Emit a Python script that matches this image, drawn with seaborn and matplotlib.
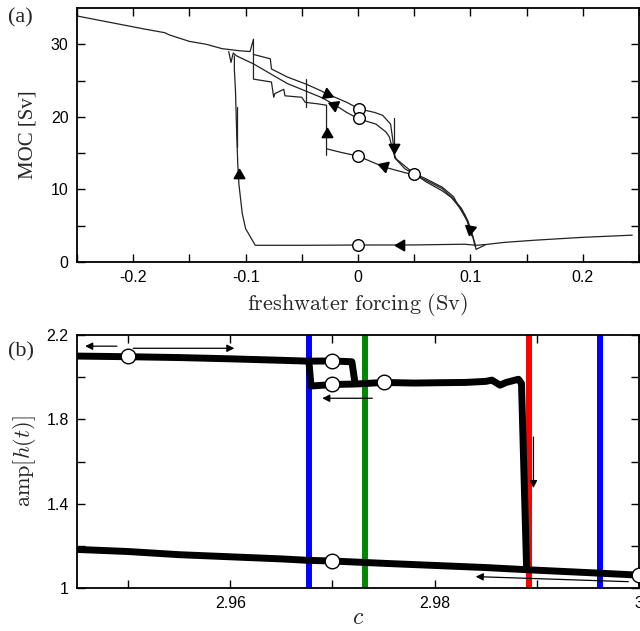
import numpy as np
import pandas as pd
import matplotlib
matplotlib.use("Agg")
import matplotlib.pyplot as plt
import seaborn as sns

# ---------------- Panel (a) data: MOC vs freshwater forcing ----------------
seg_a_x = [-0.25, -0.22, -0.19, -0.172, -0.168, -0.15, -0.135, -0.121, -0.105, -0.096, -0.093, -0.093,
           -0.078, -0.077, -0.063, -0.046, -0.033, -0.028, -0.01, 0.001, 0.015, 0.022, 0.029, 0.031,
           0.032, 0.033, 0.042, 0.05, 0.06, 0.075, 0.085, 0.089, 0.095, 0.100, 0.104, 0.105, 0.113]
seg_a_y = [33.9, 33.0, 32.1, 31.6, 31.3, 30.4, 30.0, 29.4, 29.1, 29.0, 30.7, 28.6,
           28.0, 26.6, 25.5, 24.5, 23.6, 23.2, 22.0, 21.1, 20.6, 20.2, 19.0, 16.8,
           15.2, 14.3, 12.8, 12.2, 11.5, 10.3, 9.0, 7.8, 6.5, 4.6, 2.6, 1.74, 2.34]

seg_b_x = [-0.115, -0.113, -0.111, -0.108, -0.093, -0.063, -0.033, -0.021, -0.01, 0.001, 0.016,
           0.025, 0.028, 0.030, 0.032, 0.034, 0.045, 0.06, 0.075, 0.083, 0.09, 0.097, 0.101]
seg_b_y = [29.0, 27.5, 28.8, 28.4, 27.3, 24.6, 22.7, 21.7, 20.6, 19.7, 19.0,
           17.9, 17.2, 16.0, 14.9, 14.2, 12.8, 11.1, 9.8, 8.9, 7.6, 5.7, 3.6]

seg_c_x = [-0.093, -0.093, -0.077, -0.075, -0.074, -0.066, -0.065, -0.050, -0.047, -0.036, -0.028, -0.028, -0.028]
seg_c_y = [28.6, 25.2, 24.8, 22.7, 23.2, 23.8, 22.9, 22.7, 22.0, 21.8, 21.6, 16.8, 14.7]

seg_d_x = [-0.028, -0.015, 0.0, 0.023, 0.042, 0.05, 0.06, 0.075, 0.085, 0.092, 0.098, 0.102, 0.104]
seg_d_y = [15.6, 15.1, 14.6, 13.1, 12.3, 12.0, 11.3, 10.1, 8.7, 7.4, 5.6, 3.6, 2.2]

seg_e_x = [0.032, 0.032]
seg_e_y = [19.8, 14.5]

seg_f_x = [-0.046, -0.046]
seg_f_y = [25.2, 21.3]

seg_g_x = [0.244, 0.2, 0.157, 0.13, 0.113, 0.105, 0.095, 0.05, 0.0, -0.05, -0.0914, -0.1, -0.103,
           -0.106, -0.107, -0.108, -0.109, -0.110, -0.110]
seg_g_y = [3.7, 3.4, 3.0, 2.7, 2.4, 2.3, 2.45, 2.35, 2.34, 2.30, 2.30, 4.6, 6.7,
           10.8, 13.6, 18.1, 23.6, 26.5, 28.4]

seg_h_x = [-0.1075, -0.1075]
seg_h_y = [15.8, 21.3]

circles_a_x = [0.001, 0.001, 0.0, 0.050, 0.0]
circles_a_y = [21.1, 19.8, 14.6, 12.1, 2.34]

arrows_a_x = [-0.106, -0.028, -0.028, -0.021, 0.032, 0.023, 0.100, 0.038]
arrows_a_y = [12.0, 17.7, 23.2, 21.7, 15.8, 13.2, 4.6, 2.34]
arrows_a_angle = [0, 0, -113, 67, 180, 72, 170, 90]

xticks_a = [-0.25, -0.2, -0.15, -0.1, -0.05, 0.0, 0.05, 0.1, 0.15, 0.2, 0.25]
xticklabels_a = ["", "-0.2", "", "-0.1", "", "0", "", "0.1", "", "0.2", ""]
yticks_a = [0, 5, 10, 15, 20, 25, 30]
yticklabels_a = ["0", "", "10", "", "20", "", "30"]

# ---------------- Panel (b) data: amp[h(t)] vs c ----------------
upper_x = [2.945, 2.950, 2.955, 2.960, 2.965, 2.9677, 2.970, 2.9719, 2.9722]
upper_y = [2.100, 2.097, 2.093, 2.087, 2.080, 2.076, 2.077, 2.073, 1.975]

middle_x = [2.9677, 2.9679, 2.970, 2.9725, 2.975, 2.978, 2.981, 2.983, 2.9850, 2.9856,
            2.9864, 2.9870, 2.9882, 2.9885, 2.9890]
middle_y = [2.072, 1.958, 1.965, 1.968, 1.975, 1.972, 1.974, 1.975, 1.980, 1.986,
            1.962, 1.975, 1.990, 1.970, 1.093]

lower_x = [2.945, 2.950, 2.955, 2.960, 2.965, 2.9677, 2.970, 2.975, 2.980, 2.985, 2.9893, 2.995, 3.000]
lower_y = [1.183, 1.173, 1.158, 1.148, 1.138, 1.131, 1.128, 1.117, 1.107, 1.097, 1.086, 1.073, 1.061]

circles_b_x = [2.950, 2.970, 2.970, 2.975, 2.970, 3.000]
circles_b_y = [2.100, 2.077, 1.967, 1.977, 1.128, 1.061]

vlines_b_x = [2.9677, 2.9732, 2.9892, 2.9962]
vlines_b_colors = ["#0000ff", "#008800", "#ff0000", "#0000ff"]

arrow_b_from_x = [2.9489, 2.9505, 2.9739, 2.98967, 2.99895]
arrow_b_from_y = [2.147, 2.137, 1.900, 1.716, 1.030]
arrow_b_to_x = [2.9458, 2.9604, 2.9690, 2.98967, 2.98402]
arrow_b_to_y = [2.147, 2.137, 1.900, 1.474, 1.054]

xticks_b = [2.95, 2.96, 2.97, 2.98, 2.99, 3.00]
xticklabels_b = ["", "2.96", "", "2.98", "", "3"]
yticks_b = [1.0, 1.2, 1.4, 1.6, 1.8, 2.0, 2.2]
yticklabels_b = ["1", "", "1.4", "", "1.8", "", "2.2"]

# ---------------- figure ----------------
sns.set_theme(style="ticks")
plt.rcParams["font.family"] = ["Liberation Sans", "DejaVu Sans"]
plt.rcParams["mathtext.fontset"] = "cm"

fig = plt.figure(figsize=(6.4, 6.31), dpi=100)
ax1 = fig.add_axes([77 / 640, 1 - 262 / 631, 562 / 640, 254 / 631])
ax2 = fig.add_axes([77 / 640, 1 - 588 / 631, 562 / 640, 253 / 631])

# panel (a) lines
segs = [(seg_a_x, seg_a_y), (seg_b_x, seg_b_y), (seg_c_x, seg_c_y), (seg_d_x, seg_d_y),
        (seg_e_x, seg_e_y), (seg_f_x, seg_f_y), (seg_g_x, seg_g_y), (seg_h_x, seg_h_y)]
rows = []
for i, (xs, ys) in enumerate(segs):
    for j, (xv, yv) in enumerate(zip(xs, ys)):
        rows.append({"x": xv, "y": yv, "seg": i, "order": j})
df_a = pd.DataFrame(rows)
sns.lineplot(data=df_a, x="x", y="y", units="seg", estimator=None, sort=False,
             color="#222222", lw=0.9, ax=ax1, legend=False)
for xv, yv, ang in zip(arrows_a_x, arrows_a_y, arrows_a_angle):
    ax1.plot([xv], [yv], marker=(3, 0, ang), ms=9, color="black", mec="black", ls="none", zorder=4)
sns.scatterplot(x=circles_a_x, y=circles_a_y, ax=ax1, s=70, facecolor="white",
                edgecolor="black", linewidth=1.0, zorder=5)

ax1.set_xlim(-0.25, 0.25)
ax1.set_ylim(0, 35)
ax1.set_xticks(xticks_a)
ax1.set_xticklabels(xticklabels_a)
ax1.set_yticks(yticks_a)
ax1.set_yticklabels(yticklabels_a)
ax1.set_xlabel(r"$\mathrm{freshwater\ forcing\ (Sv)}$", fontsize=16, labelpad=4)
ax1.set_ylabel("MOC [Sv]", fontsize=15, family=["Liberation Serif"], labelpad=10)

# panel (b)
for xv, col in zip(vlines_b_x, vlines_b_colors):
    ax2.axvline(xv, color=col, lw=4.3, zorder=1)
rows = []
for i, (xs, ys) in enumerate([(upper_x, upper_y), (middle_x, middle_y), (lower_x, lower_y)]):
    for xv, yv in zip(xs, ys):
        rows.append({"x": xv, "y": yv, "seg": i})
df_b = pd.DataFrame(rows)
sns.lineplot(data=df_b, x="x", y="y", units="seg", estimator=None, sort=False,
             color="black", lw=5, ax=ax2, legend=False, zorder=3)
for x0, y0, x1, y1 in zip(arrow_b_from_x, arrow_b_from_y, arrow_b_to_x, arrow_b_to_y):
    ax2.annotate("", xy=(x1, y1), xytext=(x0, y0),
                 arrowprops=dict(arrowstyle="-|>", color="black", lw=0.9,
                                 mutation_scale=11, shrinkA=0, shrinkB=0), zorder=4)
ax2.plot(circles_b_x, circles_b_y, "o", ms=10.5, mfc="white", mec="black", mew=1.0, zorder=5)

ax2.set_xlim(2.945, 3.0)
ax2.set_ylim(1.0, 2.2)
ax2.set_xticks(xticks_b)
ax2.set_xticklabels(xticklabels_b)
ax2.set_yticks(yticks_b)
ax2.set_yticklabels(yticklabels_b)
ax2.set_xlabel(r"$c$", fontsize=17, labelpad=-3)
ax2.set_ylabel(r"$\mathrm{amp}[h(t)]$", fontsize=16, labelpad=6)

for ax in (ax1, ax2):
    ax.tick_params(direction="in", length=6, width=1.0, top=True, right=True,
                   labelsize=11.5, colors="black", pad=6)
    for sp in ax.spines.values():
        sp.set_linewidth(1.3)
        sp.set_color("black")
        sp.set_visible(True)

fig.text(8 / 640, 1 - 18 / 631, "(a)", fontsize=16, family=["Liberation Serif"], va="center", ha="left")
fig.text(8 / 640, 1 - 352 / 631, "(b)", fontsize=16, family=["Liberation Serif"], va="center", ha="left")

fig.savefig("out.png", dpi=100)
